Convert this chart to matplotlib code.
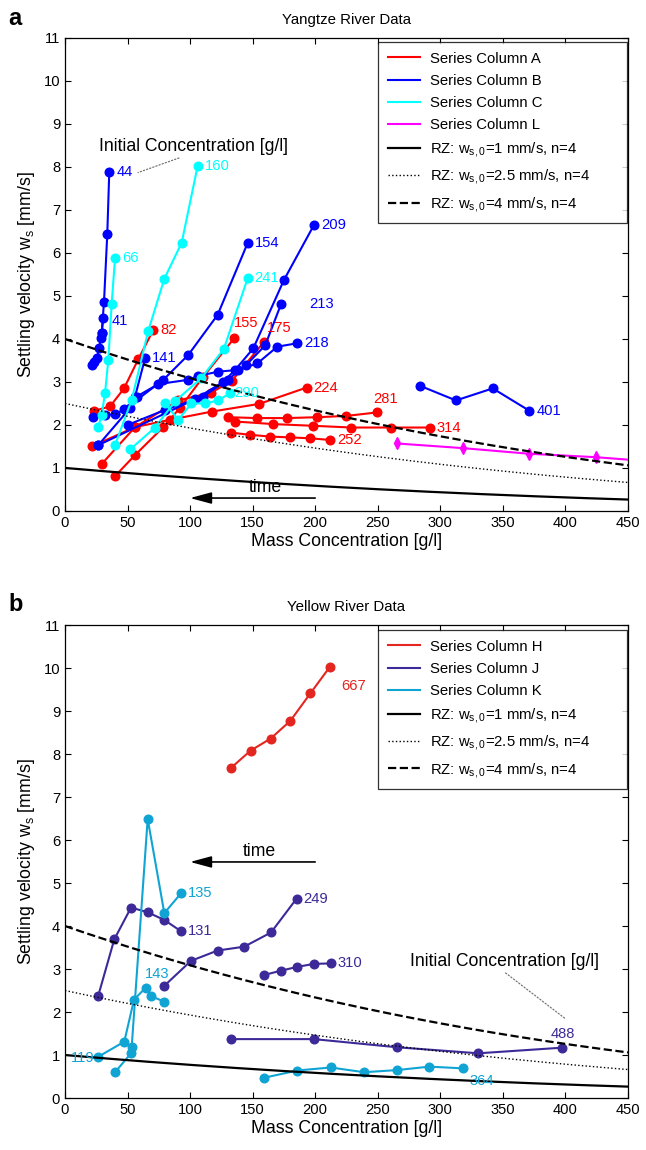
import numpy as np
import matplotlib
matplotlib.use("Agg")
import matplotlib.pyplot as plt

plt.rcParams['font.family'] = ['Liberation Sans', 'DejaVu Sans']
plt.rcParams['mathtext.fontset'] = 'custom'
plt.rcParams['mathtext.rm'] = 'Liberation Sans'
plt.rcParams['mathtext.it'] = 'Liberation Sans:italic'

# ---------------- Panel a: Yangtze River data ----------------
# Series Column A (red)
A_82_x = [23.4, 36, 47.2, 58.6, 70.6];            A_82_y = [2.33, 2.43, 2.85, 3.53, 4.21]
A_155_x = [40, 56, 78.6, 92, 110.5, 135.3];       A_155_y = [0.81, 1.3, 1.95, 2.4, 3.12, 4.02]
A_175_x = [29.3, 56, 90.6, 116.7, 133.2, 159.3];  A_175_y = [1.09, 1.95, 2.57, 2.75, 3.02, 3.94]
A_224_x = [21.3, 56, 84, 117.2, 155.3, 193.2];    A_224_y = [1.50, 1.95, 2.12, 2.31, 2.49, 2.87]
A_281_x = [130.5, 153.7, 177.7, 201.7, 225, 249]; A_281_y = [2.18, 2.16, 2.16, 2.18, 2.21, 2.29]
A_314_x = [136, 166.5, 198.5, 229, 260.3, 291.8]; A_314_y = [2.08, 2.02, 1.98, 1.94, 1.94, 1.94]
A_252_x = [133, 148, 164, 180, 196, 212];         A_252_y = [1.82, 1.77, 1.73, 1.71, 1.69, 1.65]
# Series Column B (blue)
B_41_x = [21.3, 23, 25.3, 27.4, 28.5, 29.3, 30.6]; B_41_y = [3.40, 3.47, 3.55, 3.78, 4.02, 4.13, 4.48]
B_44_x = [29.3, 31.2, 33.8, 35.4];                 B_44_y = [4.13, 4.87, 6.44, 7.89]
B_141_x = [26.6, 52, 56, 64];                      B_141_y = [1.53, 2.39, 2.66, 3.55]
B_154_x = [22.6, 32, 40, 47.4, 78.6, 98.6, 122, 146]
B_154_y = [2.19, 2.23, 2.25, 2.36, 3.05, 3.63, 4.56, 6.23]
B_209_x = [26.6, 104, 126.5, 136, 150.5, 175, 199]; B_209_y = [1.53, 2.6, 3.0, 3.28, 3.78, 5.37, 6.65]
B_213_x = [50, 80, 110, 130, 145, 160, 172.7];     B_213_y = [2.0, 2.35, 2.65, 3.05, 3.4, 3.85, 4.81]
B_218_x = [57.3, 74.6, 98.6, 106.6, 122.5, 138.5, 153.7, 169.7, 185.7]
B_218_y = [2.66, 2.95, 3.05, 3.14, 3.24, 3.28, 3.43, 3.82, 3.9]
B_401_x = [283.8, 312.5, 341.9, 371.2];            B_401_y = [2.91, 2.57, 2.85, 2.33]
# Series Column C (cyan)
C_66_x = [26.6, 29.3, 32, 34.6, 37.3, 40];         C_66_y = [1.95, 2.23, 2.74, 3.5, 4.81, 5.88]
C_160_x = [40, 53.3, 66.6, 79.4, 93.3, 106];       C_160_y = [1.53, 2.58, 4.19, 5.40, 6.24, 8.02]
C_241_x = [52, 72, 88, 109, 127, 146];             C_241_y = [1.43, 1.94, 2.55, 3.09, 3.77, 5.41]
C_290_x = [80, 90.6, 101, 112, 122.5, 132];        C_290_y = [2.5, 2.12, 2.5, 2.5, 2.57, 2.74]
# Series Column L (magenta)
L_x = [265, 318.4, 371, 424.5, 478];               L_y = [1.57, 1.46, 1.33, 1.25, 1.13]

# ---------------- Panel b: Yellow River data ----------------
H_667_x = [132.4, 148.4, 164.4, 180.1, 196.1, 211.8]; H_667_y = [7.67, 8.08, 8.36, 8.77, 9.41, 10.03]
J_131_x = [26.6, 39.4, 52.8, 66.1, 79.4, 92.7];       J_131_y = [2.38, 3.69, 4.43, 4.32, 4.14, 3.88]
J_249_x = [79.4, 100.7, 122, 143.3, 164.7, 185.2];    J_249_y = [2.61, 3.19, 3.43, 3.52, 3.85, 4.64]
J_310_x = [159, 172.4, 185.7, 199, 212.4];            J_310_y = [2.86, 2.96, 3.05, 3.12, 3.13]
J_488_x = [132.4, 199, 265.6, 330.4, 397];            J_488_y = [1.37, 1.37, 1.18, 1.04, 1.17]
K_143_x = [26.6, 47.4, 55.2, 64.7, 68.7, 79.4];       K_143_y = [0.96, 1.31, 2.29, 2.57, 2.37, 2.24]
K_135_x = [40, 52.8, 53.3, 66.1, 79.4, 92.7];         K_135_y = [0.60, 1.04, 1.18, 6.49, 4.30, 4.76]
K_364_x = [159, 185.7, 212.4, 239, 265.6, 291.2, 317.9]; K_364_y = [0.47, 0.64, 0.71, 0.60, 0.65, 0.73, 0.69]

# Richardson-Zaki reference curves
rz_ws0 = [1.0, 2.5, 4.0]
rz_n = 4
rz_cmax = 1593.0
rz_styles = ['-', ':', '--']
rz_labels = ['RZ: w$_{\\mathregular{s,0}}$=1 mm/s, n=4',
             'RZ: w$_{\\mathregular{s,0}}$=2.5 mm/s, n=4',
             'RZ: w$_{\\mathregular{s,0}}$=4 mm/s, n=4']

x_ticks = list(range(0, 451, 50))
y_ticks = list(range(0, 12))

# colours
cA, cB, cC, cL = '#ff0000', '#0000ff', '#00ffff', '#ff00ff'
cH, cJ, cK = '#e3261f', '#3d2a98', '#10a4d4'

fig = plt.figure(figsize=(6.46, 11.5), dpi=100)
axa = fig.add_axes([0.1006, 0.5557, 0.8715, 0.4113])
axb = fig.add_axes([0.1006, 0.0452, 0.8715, 0.4113])

FS = 10.6      # data labels / ticks
FL = 10.7      # legend
FA = 12.7      # annotation text
FX = 12.8      # axis labels


def draw_series(ax, xs, ys, color, label=None, marker='o', ms=6.2, lab=None, off=(5, 0),
                ha='left', va='center', idx=-1):
    ax.plot(xs, ys, '-', color=color, lw=1.5, marker=marker, ms=ms, mec=color, mfc=color,
            label=label, clip_on=True, zorder=3)
    if lab is not None:
        ax.annotate(lab, (xs[idx], ys[idx]), xytext=off, textcoords='offset points',
                    color=color, fontsize=FS, ha=ha, va=va, zorder=5)


def draw_rz(ax):
    c = np.linspace(0, 450, 200)
    for w, ls, lb in zip(rz_ws0, rz_styles, rz_labels):
        lw = 1.6 if ls != ':' else 1.0
        ax.plot(c, w * (1 - c / rz_cmax) ** rz_n, ls=ls, color='k', lw=lw, label=lb, zorder=4)


def style_axes(ax, title, xlabel):
    ax.set_xlim(0, 450)
    ax.set_ylim(0, 11)
    ax.set_xticks(x_ticks)
    ax.set_yticks(y_ticks)
    ax.tick_params(direction='in', top=True, right=True, labelsize=FS, length=4)
    ax.set_title(title, fontsize=FS + 0.2, pad=10)
    ax.set_xlabel(xlabel, fontsize=FX, labelpad=2)
    ax.set_ylabel('Settling velocity w$_{\\mathregular{s}}$ [mm/s]', fontsize=FX, labelpad=5)
    for s in ax.spines.values():
        s.set_linewidth(0.9)


def add_legend(ax, top):
    leg = ax.legend(loc='upper left', bbox_to_anchor=(0.556, 0.3, 0.442, top - 0.3), mode='expand',
                    fontsize=FL, frameon=True, fancybox=False, edgecolor='k',
                    handlelength=2.2, labelspacing=0.55, borderpad=0.65, handletextpad=0.67,
                    borderaxespad=0.0)
    leg.get_frame().set_linewidth(0.9)
    for h in leg.get_lines():
        h.set_marker('')
    return leg


def time_arrow(ax, y, xt):
    ax.annotate('', xy=(100, y), xytext=(200, y),
                arrowprops=dict(arrowstyle='-|>,head_length=1.3,head_width=0.35', color='k', lw=1.2,
                                shrinkA=0, shrinkB=0))
    ax.text(xt, y + 0.05, 'time', fontsize=FA, ha='center', va='bottom')


# ---------------- draw panel a ----------------
ax = axa
draw_series(ax, A_82_x, A_82_y, cA, label='Series Column A', lab='82')
draw_series(ax, A_155_x, A_155_y, cA, lab='155', off=(0, 6), ha='left', va='bottom')
draw_series(ax, A_175_x, A_175_y, cA, lab='175', off=(2, 5), va='bottom')
draw_series(ax, A_224_x, A_224_y, cA, lab='224')
draw_series(ax, A_281_x, A_281_y, cA, lab='281', off=(-2, 5), va='bottom')
draw_series(ax, A_314_x, A_314_y, cA, lab='314')
draw_series(ax, A_252_x, A_252_y, cA, lab='252')
draw_series(ax, B_41_x, B_41_y, cB, label='Series Column B', lab='41', off=(6, -2))
draw_series(ax, B_44_x, B_44_y, cB, lab='44')
draw_series(ax, B_141_x, B_141_y, cB, lab='141', off=(5, 0))
draw_series(ax, B_154_x, B_154_y, cB, lab='154')
draw_series(ax, B_209_x, B_209_y, cB, lab='209')
draw_series(ax, B_213_x, B_213_y, cB, lab='213', off=(20, 0))
draw_series(ax, B_218_x, B_218_y, cB, lab='218')
draw_series(ax, B_401_x, B_401_y, cB, lab='401')
draw_series(ax, C_66_x, C_66_y, cC, label='Series Column C', lab='66')
draw_series(ax, C_160_x, C_160_y, cC, lab='160')
draw_series(ax, C_241_x, C_241_y, cC, lab='241')
draw_series(ax, C_290_x, C_290_y, cC, lab='290', off=(3, 0))
draw_series(ax, L_x, L_y, cL, label='Series Column L', marker='d', ms=5.8)
draw_rz(ax)
ax.annotate('Initial Concentration [g/l]', xy=(58.4, 7.87), xytext=(27.4, 8.47),
            fontsize=FA, ha='left', va='center',
            arrowprops=dict(arrowstyle='-', ls=':', color='0.45', lw=0.9,
                            shrinkA=0, shrinkB=0, relpos=(0.45, -0.05)))
time_arrow(ax, 0.30, 160)
style_axes(ax, 'Yangtze River Data', 'Mass Concentration [g/l]')
add_legend(ax, 0.9915)

# ---------------- draw panel b ----------------
ax = axb
draw_series(ax, H_667_x, H_667_y, cH, label='Series Column H', lab='667', off=(8, -14))
draw_series(ax, J_131_x, J_131_y, cJ, label='Series Column J', lab='131')
draw_series(ax, J_249_x, J_249_y, cJ, lab='249')
draw_series(ax, J_310_x, J_310_y, cJ, lab='310')
draw_series(ax, J_488_x, J_488_y, cJ, lab='488', off=(1, 5), ha='center', va='bottom')
draw_series(ax, K_143_x, K_143_y, cK, label='Series Column K', lab='119', off=(-3, -1), ha='right', idx=0)
draw_series(ax, K_135_x, K_135_y, cK, lab='135')
draw_series(ax, K_364_x, K_364_y, cK, lab='364', off=(5, -9), va='center')
ax.annotate('143', (K_143_x[3], K_143_y[3]), xytext=(8, 5), textcoords='offset points', color=cK,
            fontsize=FS, ha='center', va='bottom')
draw_rz(ax)
ax.annotate('Initial Concentration [g/l]', xy=(399.7, 1.85), xytext=(351.7, 3.17),
            fontsize=FA, ha='center', va='center',
            arrowprops=dict(arrowstyle='-', ls=':', color='0.45', lw=0.9,
                            shrinkA=0, shrinkB=0, relpos=(0.49, -0.05)))
time_arrow(ax, 5.49, 155)
style_axes(ax, 'Yellow River Data', 'Mass Concentration [g/l]')
add_legend(ax, 0.9894)

fig.text(0.013, 0.984, 'a', fontsize=17, fontweight='bold', ha='left', va='center')
fig.text(0.013, 0.474, 'b', fontsize=17, fontweight='bold', ha='left', va='center')

fig.savefig('out.png', dpi=100)
